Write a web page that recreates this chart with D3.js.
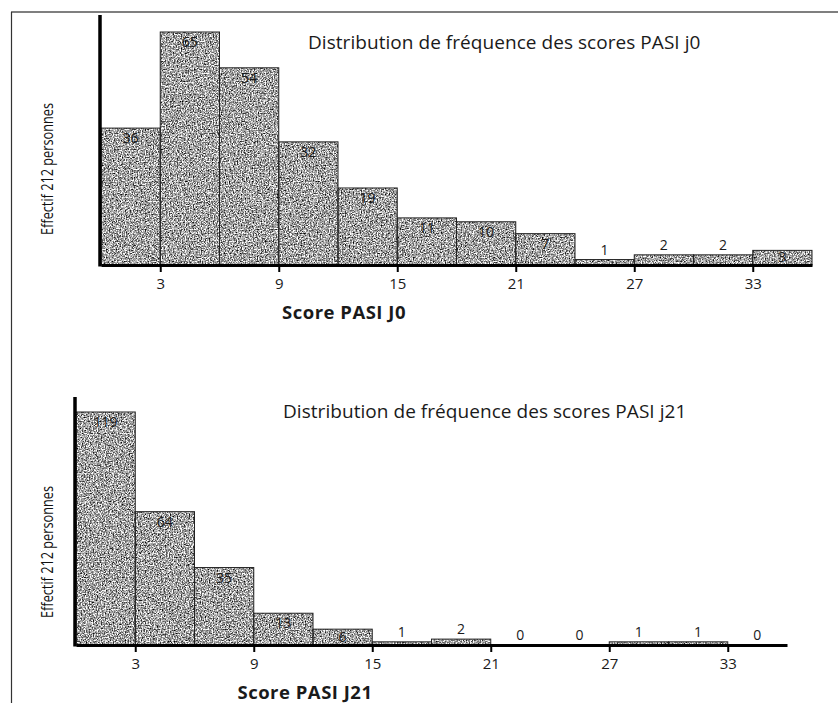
<!DOCTYPE html>
<html>
<head>
<meta charset="utf-8">
<script src="https://cdn.jsdelivr.net/npm/d3@7"></script>
<style>
  html, body { margin: 0; padding: 0; background: #fff; }
  svg { display: block; }
  text { font-family: "Open Sans", "DejaVu Sans", sans-serif; fill: #1a1a1a; }
</style>
</head>
<body>
<svg id="chart" width="838" height="703"></svg>
<script>
/* ── DATA ───────────────────────────────────────── */
const binStarts  = [0, 3, 6, 9, 12, 15, 18, 21, 24, 27, 30, 33];
const binWidth   = 3;
const countsJ0   = [36, 65, 54, 32, 19, 11, 10, 7, 1, 2, 2, 3];
const countsJ21  = [119, 64, 35, 13, 6, 1, 2, 0, 0, 1, 1, 0];
const tickValues = [3, 9, 15, 21, 27, 33];
const yLabel     = 'Effectif 212 personnes';

const svg = d3.select('#chart');

/* ── GRAIN (halftone look of the scan) ──────────── */
const defs = svg.append('defs');
const f = defs.append('filter').attr('id', 'grain')
  .attr('x', 0).attr('y', 0).attr('width', '100%').attr('height', '100%')
  .attr('color-interpolation-filters', 'sRGB');
f.append('feTurbulence').attr('type', 'fractalNoise')
  .attr('baseFrequency', 0.75).attr('numOctaves', 2).attr('seed', 4).attr('result', 'n');
f.append('feColorMatrix').attr('type', 'matrix').attr('in', 'n')
  .attr('values', '2.0 0 0 0 -0.36  2.0 0 0 0 -0.36  2.0 0 0 0 -0.36  0 0 0 0 1')
  .attr('result', 'g');
f.append('feComposite').attr('in', 'g').attr('in2', 'SourceGraphic').attr('operator', 'in');

/* ── FRAME ──────────────────────────────────────── */
svg.append('line').attr('x1', 11).attr('x2', 838).attr('y1', 12).attr('y2', 12)
  .attr('stroke', '#555').attr('stroke-width', 1.5);
svg.append('line').attr('x1', 11.5).attr('x2', 11.5).attr('y1', 12).attr('y2', 703)
  .attr('stroke', '#333').attr('stroke-width', 1.2);

/* ── HISTOGRAM ──────────────────────────────────── */
function drawHist(o) {
  const g = svg.append('g');
  const x = d3.scaleLinear().domain([0, 36]).range([o.left, o.left + 711]);
  const y = d3.scalePow().exponent(0.9)
    .domain([0, d3.max(o.counts)]).range([o.base, o.base - 233]);
  const data = binStarts.map((s, i) => ({ s, v: o.counts[i] }));
  const filled = data.filter(d => d.v > 0);

  g.selectAll('rect.bar').data(filled).enter().append('rect')
    .attr('class', 'bar')
    .attr('x', d => x(d.s)).attr('width', d => x(d.s + binWidth) - x(d.s))
    .attr('y', d => y(d.v)).attr('height', d => o.base - y(d.v))
    .attr('fill', '#999').attr('filter', 'url(#grain)');
  g.selectAll('rect.edge').data(filled).enter().append('rect')
    .attr('class', 'edge')
    .attr('x', d => x(d.s)).attr('width', d => x(d.s + binWidth) - x(d.s))
    .attr('y', d => y(d.v)).attr('height', d => o.base - y(d.v))
    .attr('fill', 'none').attr('stroke', '#222').attr('stroke-width', 1);

  g.selectAll('text.val').data(data).enter().append('text')
    .attr('class', 'val')
    .attr('x', d => x(d.s + binWidth / 2))
    .attr('y', d => {
      const h = o.base - y(d.v);
      if (h >= 14) return Math.min(y(d.v) + 15, o.base - 3);
      return y(d.v) - 5;
    })
    .attr('text-anchor', 'middle').attr('font-size', 14)
    .text(d => d.v);

  // x axis
  const ax = g.append('g').attr('transform', 'translate(0,' + o.base + ')')
    .call(d3.axisBottom(x).tickValues(tickValues).tickSize(7).tickSizeOuter(0).tickPadding(6));
  ax.select('.domain').attr('stroke', '#000').attr('stroke-width', 3);
  ax.selectAll('.tick line').attr('stroke', '#000').attr('stroke-width', 2);
  ax.selectAll('.tick text').attr('font-size', 15).attr('fill', '#1a1a1a')
    .attr('font-family', '"Open Sans", sans-serif');

  // y axis (no ticks)
  g.append('line').attr('x1', o.left - 1).attr('x2', o.left - 1)
    .attr('y1', o.axisTop).attr('y2', o.base + 1.5)
    .attr('stroke', '#000').attr('stroke-width', 3.5);

  g.append('text').attr('x', o.titleX).attr('y', o.titleY)
    .attr('font-size', 19).attr('letter-spacing', 0.05).text(o.title);
  g.append('text').attr('x', o.xTitleX).attr('y', o.xTitleY)
    .attr('text-anchor', 'middle').attr('font-size', 18.5).attr('font-weight', 'bold')
    .attr('letter-spacing', 0.5)
    .text(o.xTitle);
  g.append('text')
    .attr('transform', 'translate(53,' + o.yLabelY + ') rotate(-90)')
    .attr('text-anchor', 'middle').attr('font-size', 16).style('fill', '#111')
    .attr('textLength', 132).attr('lengthAdjust', 'spacingAndGlyphs')
    .text(yLabel);
}

drawHist({
  counts: countsJ0, left: 101, base: 265, axisTop: 15,
  title: 'Distribution de fréquence des scores PASI j0', titleX: 308, titleY: 49,
  xTitle: 'Score PASI J0', xTitleX: 344, xTitleY: 319, yLabelY: 169
});
drawHist({
  counts: countsJ21, left: 76, base: 645, axisTop: 397,
  title: 'Distribution de fréquence des scores PASI j21', titleX: 283, titleY: 418,
  xTitle: 'Score PASI J21', xTitleX: 305, xTitleY: 699, yLabelY: 552
});
</script>
</body>
</html>
